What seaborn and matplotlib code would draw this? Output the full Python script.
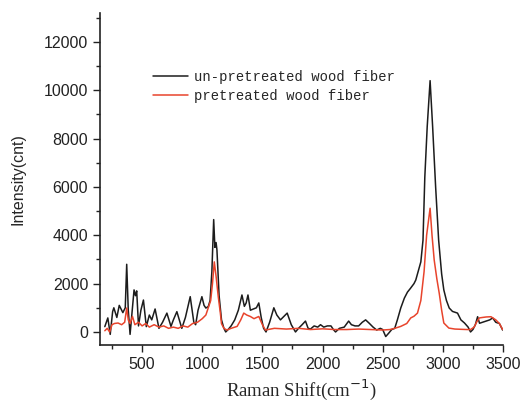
import numpy as np
import pandas as pd
import matplotlib.pyplot as plt
import seaborn as sns
from matplotlib.ticker import MultipleLocator

# un-pretreated wood fiber (black)
raw_shift = [190, 215, 235, 255, 265, 290, 310, 340, 360, 372, 385, 400, 420, 433, 445, 455,
             470, 490, 511, 535, 560, 580, 608, 640, 670, 706, 740, 760, 789, 830, 860, 900,
             930, 945, 965, 997, 1015, 1030, 1050, 1065, 1080, 1095, 1105, 1115, 1122, 1140,
             1160, 1180, 1195, 1215, 1240, 1270, 1300, 1330, 1350, 1365, 1380, 1400, 1425,
             1450, 1470, 1490, 1510, 1530, 1560, 1595, 1620, 1650, 1680, 1706, 1740, 1775,
             1800, 1830, 1858, 1880, 1900, 1930, 1960, 1983, 2010, 2040, 2070, 2090, 2108,
             2140, 2180, 2217, 2240, 2270, 2300, 2330, 2358, 2390, 2420, 2450, 2480, 2500,
             2525, 2550, 2575, 2600, 2622, 2650, 2680, 2706, 2730, 2760, 2775, 2800, 2817,
             2835, 2850, 2870, 2894, 2915, 2940, 2965, 2990, 3008, 3030, 3053, 3080, 3122,
             3150, 3180, 3210, 3230, 3250, 3270, 3289, 3305, 3330, 3360, 3390, 3414, 3440,
             3470, 3497]
raw_int = [220, 580, -100, 840, 1000, 600, 1100, 800, 1000, 2800, 900, -100, 1000, 1740, 1500, 1700,
           250, 900, 1320, 220, 700, 500, 950, 150, 400, 780, 230, 500, 840, 150, 600, 1460,
           400, 300, 900, 1460, 1100, 990, 1050, 1300, 2500, 4650, 3500, 3700, 3400, 1500,
           500, 150, 0, 100, 250, 500, 900, 1530, 1060, 1200, 1530, 900, 950,
           1000, 1200, 600, 150, 0, 400, 1000, 700, 500, 650, 780, 300, 0,
           150, 300, 450, 150, 120, 250, 200, 300, 200, 250, 250, 100, 0,
           150, 200, 450, 300, 250, 250, 400, 500, 350, 200, 80, 150, 100,
           -190, -50, 100, 150, 500, 990, 1400, 1650, 1800, 2000, 2150, 2600, 2900,
           3800, 6400, 8500, 10400, 8500, 6000, 3800, 2400, 1740, 1300, 990, 850, 780,
           500, 370, 200, 0, 100, 300, 630, 360, 400, 450, 500, 580, 400,
           350, 80]

# pretreated wood fiber (red)
pre_shift = [190, 210, 230, 250, 270, 300, 330, 355, 372, 385, 400, 420, 440, 470, 500, 530,
             560, 600, 640, 680, 720, 760, 800, 840, 880, 920, 960, 1000, 1030, 1050, 1070,
             1085, 1100, 1115, 1133, 1150, 1160, 1180, 1205, 1240, 1290, 1320, 1345, 1370,
             1400, 1430, 1470, 1500, 1525, 1600, 1700, 1800, 1900, 2000, 2100, 2200, 2300,
             2400, 2500, 2560, 2600, 2650, 2700, 2733, 2760, 2789, 2817, 2844, 2865, 2894,
             2910, 2928, 2950, 2970, 2990, 3008, 3050, 3100, 3150, 3200, 3230, 3260, 3280,
             3303, 3330, 3360, 3400, 3440, 3470, 3497]
pre_int = [50, 150, 0, 300, 350, 370, 300, 400, 990, 500, 350, 640, 300, 400, 250, 350,
           200, 300, 200, 250, 150, 200, 150, 250, 200, 350, 400, 550, 700, 1000, 1300,
           2000, 2900, 2300, 1460, 800, 340, 150, 80, 150, 230, 500, 780, 700,
           640, 550, 640, 300, 80, 150, 120, 150, 100, 130, 100, 100, 120,
           100, 80, 100, 150, 230, 350, 580, 650, 780, 1300, 2500, 4000, 5120,
           4000, 2980, 2200, 1600, 900, 370, 160, 120, 110, 100, 100, 200, 400,
           580, 600, 620, 630, 500, 350, 100]

labels = ['un-pretreated wood fiber', 'pretreated wood fiber']
colors = ['#1c1c1c', '#e8442c']

df = pd.concat([
    pd.DataFrame({'shift': raw_shift, 'intensity': raw_int, 'sample': labels[0]}),
    pd.DataFrame({'shift': pre_shift, 'intensity': pre_int, 'sample': labels[1]}),
])

sns.set_style('white')
plt.rcParams['font.family'] = ['Liberation Sans', 'DejaVu Sans']

fig = plt.figure(figsize=(5.23, 4.07), dpi=100)
ax = fig.add_axes([100 / 523, 1 - 345 / 407, 403 / 523, 332 / 407])

sns.lineplot(data=df, x='shift', y='intensity', hue='sample', palette=colors,
             estimator=None, sort=False, linewidth=1.1, ax=ax, legend=False)

ax.set_xlim(150, 3500)
ax.set_ylim(-540, 13200)
ax.xaxis.set_major_locator(MultipleLocator(500))
ax.xaxis.set_minor_locator(MultipleLocator(250))
ax.yaxis.set_major_locator(MultipleLocator(2000))
ax.yaxis.set_minor_locator(MultipleLocator(1000))
ax.set_xticks(range(500, 3501, 500))
ax.tick_params(which='major', direction='out', length=5, width=1, labelsize=11.5,
               left=True, bottom=True, colors='#222222')
ax.tick_params(which='minor', direction='out', length=3, width=1, left=True, bottom=True,
               colors='#222222')
sns.despine(ax=ax)
for s in ['left', 'bottom']:
    ax.spines[s].set_color('#222222')
    ax.spines[s].set_linewidth(1.2)

ax.set_ylabel('Intensity(cnt)', fontsize=11.5, labelpad=13)
ax.set_xlabel(r'Raman Shift(cm$^{-1}$)', fontsize=13.5, family='Liberation Serif', labelpad=4)

handles = [plt.Line2D([], [], color=c, lw=1.1) for c in colors]
ax.legend(handles, labels, loc='upper left', bbox_to_anchor=(0.1, 0.865), frameon=False,
          prop={'family': 'Liberation Mono', 'size': 10}, handlelength=2.5,
          handletextpad=0.5, labelspacing=0.35)

plt.savefig('out.png', dpi=100)
